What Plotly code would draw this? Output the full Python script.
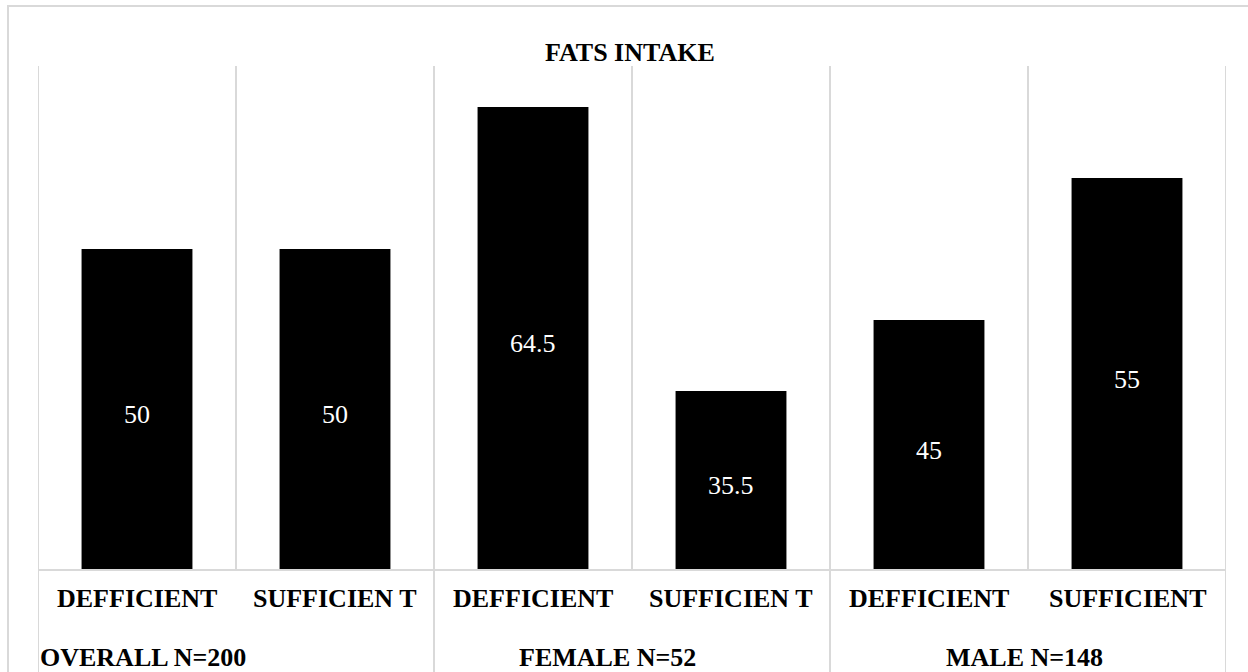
import plotly.graph_objects as go

# ---- data ----
groups = ["OVERALL N=200", "FEMALE N=52", "MALE N=148"]
inner_labels = ["DEFFICIENT", "SUFFICIEN T", "DEFFICIENT", "SUFFICIEN T", "DEFFICIENT", "SUFFICIENT"]
group_of_bar = [0, 0, 1, 1, 2, 2]
bar_heights = [50, 50, 64.5, 35.5, 42.75, 57.25]   # heights as drawn in the picture
bar_labels = ["50", "50", "64.5", "35.5", "45", "55"]
title_text = "FATS INTAKE"

Y_MIN, Y_MAX = 17.22, 68.69

# ---- style ----
FONT = "Liberation Serif, Times New Roman, serif"
GRID = "#d9d9d9"
W, H = 1248, 672
ML, MR, MT, MB = 38, 22, 66, 102
PW, PH = W - ML - MR, H - MT - MB

def px_to_paper_x(px):
    return (px - ML) / PW

def px_to_paper_y(py):
    return (H - MB - py) / PH

xs = list(range(len(bar_heights)))

fig = go.Figure()
fig.add_trace(go.Bar(
    x=xs, y=bar_heights,
    marker=dict(color="black", line=dict(width=0)),
    width=0.56,
    hoverinfo="y",
    showlegend=False,
))

shapes = []
n = len(xs)
group_bounds = set()
for i in range(n + 1):
    if i == 0 or i == n or group_of_bar[i] != group_of_bar[i - 1]:
        group_bounds.add(i)
for i in range(n + 1):
    y0 = px_to_paper_y(H + 2) if i in group_bounds else 0
    shapes.append(dict(type="line", xref="x", yref="paper",
                       x0=i - 0.5, x1=i - 0.5, y0=y0, y1=1,
                       line=dict(color=GRID, width=2), layer="below"))
shapes.append(dict(type="line", xref="x", yref="paper",
                   x0=-0.5, x1=n - 0.5, y0=0, y1=0,
                   line=dict(color=GRID, width=2), layer="above"))
# outer chart frame (left & top)
shapes.append(dict(type="line", xref="paper", yref="paper",
                   x0=px_to_paper_x(8), x1=px_to_paper_x(8),
                   y0=px_to_paper_y(H + 2), y1=px_to_paper_y(6),
                   line=dict(color=GRID, width=2)))
shapes.append(dict(type="line", xref="paper", yref="paper",
                   x0=px_to_paper_x(7), x1=px_to_paper_x(W + 2),
                   y0=px_to_paper_y(6), y1=px_to_paper_y(6),
                   line=dict(color=GRID, width=2)))

annotations = []
for x, h, t in zip(xs, bar_heights, bar_labels):
    annotations.append(dict(x=x, y=(Y_MIN + h) / 2, xref="x", yref="y",
                            text=t, showarrow=False, yshift=-5,
                            font=dict(family=FONT, size=26, color="white"),
                            xanchor="center", yanchor="middle"))
for x, t in zip(xs, inner_labels):
    annotations.append(dict(x=x, y=px_to_paper_y(598), xref="x", yref="paper",
                            text="<b>" + t + "</b>", showarrow=False,
                            font=dict(family=FONT, size=26, color="black"),
                            xanchor="center", yanchor="middle"))
for g, name in enumerate(groups):
    members = [x for x, gg in zip(xs, group_of_bar) if gg == g]
    if g == 0:
        annotations.append(dict(x=members[0] - 0.5, y=px_to_paper_y(657), xref="x", yref="paper",
                                text="<b>" + name + "</b>", showarrow=False,
                                font=dict(family=FONT, size=26, color="black"),
                                xanchor="left", yanchor="middle"))
    else:
        cx = sum(members) / len(members)
        annotations.append(dict(x=cx, y=px_to_paper_y(657), xref="x", yref="paper",
                                text="<b>" + name + "</b>", showarrow=False,
                                xshift=-25 if g == 1 else -4,
                                font=dict(family=FONT, size=26, color="black"),
                                xanchor="center", yanchor="middle"))
annotations.append(dict(x=0.5, y=px_to_paper_y(52), xref="paper", yref="paper",
                        text="<b>" + title_text + "</b>", showarrow=False,
                        xshift=-2,
                        font=dict(family=FONT, size=26, color="black"),
                        xanchor="center", yanchor="middle"))

fig.update_layout(
    width=W, height=H,
    margin=dict(l=ML, r=MR, t=MT, b=MB),
    paper_bgcolor="white", plot_bgcolor="white",
    shapes=shapes, annotations=annotations,
    xaxis=dict(range=[-0.5, n - 0.5], showgrid=False, zeroline=False,
               showticklabels=False, showline=False, fixedrange=True),
    yaxis=dict(range=[Y_MIN, Y_MAX], showgrid=False, zeroline=False,
               showticklabels=False, showline=False, fixedrange=True),
    bargap=0.44,
)

fig.write_html("out.html",
               config={"displayModeBar": False},
               post_script="document.body.style.margin='0px';document.body.style.overflow='hidden';")
